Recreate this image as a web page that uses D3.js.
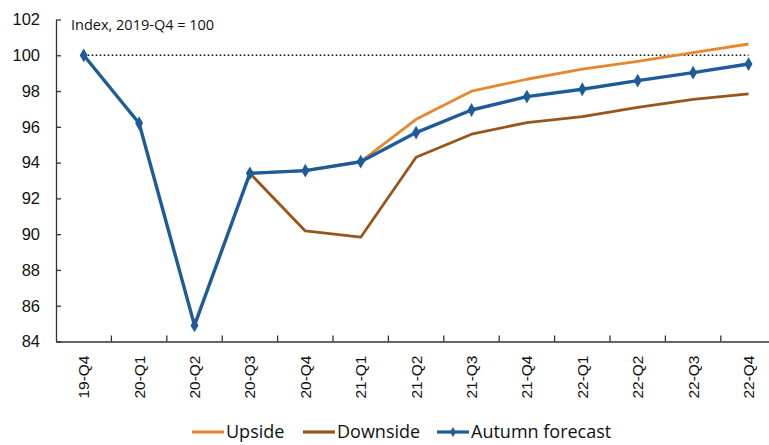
<!DOCTYPE html>
<html>
<head>
<meta charset="utf-8">
<script src="https://cdn.jsdelivr.net/npm/d3@7"></script>
<style>
  html, body { margin: 0; padding: 0; background: #fff; }
  svg { display: block; font-family: "Open Sans", "Noto Sans", sans-serif; }
</style>
</head>
<body>
<div id="chart"></div>
<script>
const categories = ["19-Q4","20-Q1","20-Q2","20-Q3","20-Q4","21-Q1","21-Q2","21-Q3","21-Q4","22-Q1","22-Q2","22-Q3","22-Q4"];
const autumnForecast = [100, 96.2, 84.9, 93.4, 93.55, 94.05, 95.68, 96.94, 97.69, 98.1, 98.58, 99.03, 99.51];
const upside =   [null, null, null, 93.4, 93.55, 94.05, 96.42, 97.99, 98.66, 99.22, 99.66, 100.15, 100.63];
const downside = [null, null, null, 93.4, 90.18, 89.83, 94.3, 95.59, 96.24, 96.57, 97.09, 97.54, 97.84];
const yTicks = [84, 86, 88, 90, 92, 94, 96, 98, 100, 102];
const baseline = 100;
const annotation = "Index, 2019-Q4 = 100";
const legendItems = [
  {name: "Upside", color: "#E8862E", marker: false},
  {name: "Downside", color: "#98561C", marker: false},
  {name: "Autumn forecast", color: "#1D5B99", marker: true}
];

const W = 769, H = 445;
const svg = d3.select("#chart").append("svg").attr("width", W).attr("height", H);

const x = d3.scaleBand().domain(categories).range([56, 56 + 13 * 55.4]);
const y = d3.scaleLinear().domain([84, 102]).range([341.5, 19.5]);
const cx = c => x(c) + x.bandwidth() / 2;

// y axis
const yAxis = svg.append("g").attr("transform", "translate(56,0)")
  .call(d3.axisLeft(y).tickValues(yTicks).tickSizeInner(-5).tickSizeOuter(0).tickPadding(16));
yAxis.select(".domain").attr("stroke", "#333").attr("stroke-width", 1.3);
yAxis.selectAll(".tick line").attr("stroke", "#333").attr("stroke-width", 1.3);
yAxis.selectAll(".tick text").attr("font-size", 16.5).attr("fill", "#111");

// x axis
const xAxis = svg.append("g").attr("transform", "translate(0,341.5)")
  .call(d3.axisBottom(x).tickSize(0).tickPadding(0));
xAxis.select(".domain").attr("stroke", "#333").attr("stroke-width", 1.3);
// ticks at category boundaries
xAxis.selectAll(".bticks").data(categories).enter().append("line")
  .attr("x1", d => x(d) + x.bandwidth())
  .attr("x2", d => x(d) + x.bandwidth())
  .attr("y1", 0).attr("y2", -6)
  .attr("stroke", "#333").attr("stroke-width", 1.3);
xAxis.selectAll(".tick text")
  .attr("transform", "rotate(-90)")
  .attr("text-anchor", "end")
  .attr("x", -14).attr("y", 0).attr("dy", "0.35em")
  .attr("font-size", 15.5).attr("fill", "#111");

// baseline dotted
svg.append("line")
  .attr("x1", cx(categories[0])).attr("x2", cx(categories[categories.length - 1]))
  .attr("y1", y(baseline)).attr("y2", y(baseline))
  .attr("stroke", "#111").attr("stroke-width", 1.6).attr("stroke-dasharray", "1.6,2.4");

// annotation
svg.append("text").attr("x", 71).attr("y", 30).attr("font-size", 14.5).attr("fill", "#111")
  .text(annotation);

const mkLine = (vals) => d3.line()
  .defined((d, i) => vals[i] != null)
  .x((d, i) => cx(categories[i]))
  .y((d, i) => y(vals[i]))(vals);

svg.append("path").attr("d", mkLine(upside)).attr("fill", "none")
  .attr("stroke", legendItems[0].color).attr("stroke-width", 2.8).attr("stroke-linejoin", "round");
svg.append("path").attr("d", mkLine(downside)).attr("fill", "none")
  .attr("stroke", legendItems[1].color).attr("stroke-width", 2.8).attr("stroke-linejoin", "round");
svg.append("path").attr("d", mkLine(autumnForecast)).attr("fill", "none")
  .attr("stroke", legendItems[2].color).attr("stroke-width", 3.4).attr("stroke-linejoin", "round");

const diamond = d3.symbol().type(d3.symbolDiamond).size(55);
svg.selectAll(".pt").data(autumnForecast).enter().append("path")
  .attr("d", diamond)
  .attr("transform", (d, i) => `translate(${cx(categories[i])},${y(d)})`)
  .attr("fill", legendItems[2].color);

// legend
const legendX = [192, 303, 437];
const lg = svg.append("g");
legendItems.forEach((it, i) => {
  const g = lg.append("g").attr("transform", `translate(${legendX[i]},432)`);
  g.append("line").attr("x1", 0).attr("x2", 32).attr("y1", 0).attr("y2", 0)
    .attr("stroke", it.color).attr("stroke-width", 3.2);
  if (it.marker) g.append("path").attr("d", d3.symbol().type(d3.symbolDiamond).size(30))
    .attr("transform", "translate(16,0)").attr("fill", it.color);
  g.append("text").attr("x", 34).attr("y", 0).attr("dy", "0.36em")
    .attr("font-size", 18).attr("fill", "#111").text(it.name);
});
</script>
</body>
</html>
